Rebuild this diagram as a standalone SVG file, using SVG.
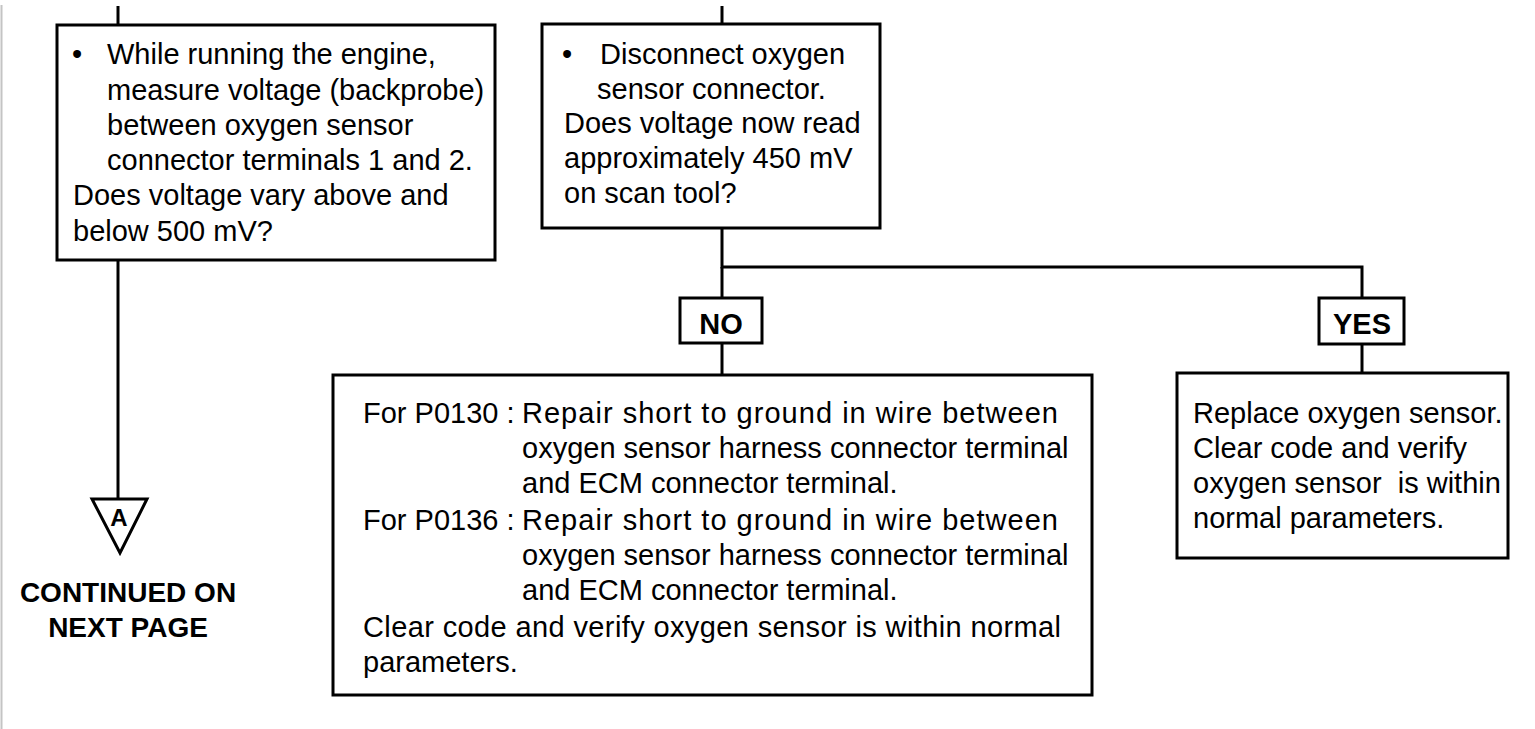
<svg xmlns="http://www.w3.org/2000/svg" width="1535" height="729" viewBox="0 0 1535 729">
<style>
.box{fill:#fff;stroke:#000;stroke-width:3}
.ln{fill:none;stroke:#000;stroke-width:3}
.t{font-family:"Liberation Sans",Arial,sans-serif;font-size:29px;fill:#000;white-space:pre}
.b{font-family:"Liberation Sans",Arial,sans-serif;font-weight:bold;fill:#000}
</style>
<rect width="1535" height="729" fill="#fff"/>
<line x1="1.5" y1="5" x2="1.5" y2="729" stroke="#c4c4c4" stroke-width="2"/>
<g id="connectors">
<line class="ln" x1="118" y1="6" x2="118" y2="25"/>
<line class="ln" x1="118" y1="260" x2="118" y2="499"/>
<line class="ln" x1="722" y1="6" x2="722" y2="24"/>
<polyline class="ln" points="722,228 722,267 1362,267 1362,298"/>
<line class="ln" x1="722" y1="267" x2="722" y2="298"/>
<line class="ln" x1="722" y1="343" x2="722" y2="375"/>
<line class="ln" x1="1362" y1="344" x2="1362" y2="373"/>
</g>
<g id="step1">
<rect class="box" x="57" y="25" width="438" height="235"/>
<text class="t" x="72" y="64">•</text>
<text class="t" x="107" y="64">While running the engine,</text>
<text class="t" x="107" y="100">measure voltage (backprobe)</text>
<text class="t" x="107" y="135">between oxygen sensor</text>
<text class="t" x="107" y="170">connector terminals 1 and 2.</text>
<text class="t" x="73" y="205">Does voltage vary above and</text>
<text class="t" x="73" y="241">below 500 mV?</text>
</g>
<g id="step2">
<rect class="box" x="542" y="24" width="338" height="204"/>
<text class="t" x="562" y="64">•</text>
<text class="t" x="600" y="64">Disconnect oxygen</text>
<text class="t" x="597" y="99">sensor connector.</text>
<text class="t" x="564" y="133">Does voltage now read</text>
<text class="t" x="564" y="168">approximately 450 mV</text>
<text class="t" x="564" y="203">on scan tool?</text>
</g>
<g id="no-label">
<rect class="box" x="680" y="298" width="82" height="45"/>
<text class="b" x="721" y="334" font-size="29" text-anchor="middle">NO</text>
</g>
<g id="yes-label">
<rect class="box" x="1319" y="298" width="85" height="46"/>
<text class="b" x="1362" y="334" font-size="29" text-anchor="middle">YES</text>
</g>
<g id="no-action">
<rect class="box" x="333" y="375" width="759" height="320"/>
<text class="t" x="363" y="423">For P0130 :</text>
<text class="t" x="522" y="423" textLength="536" lengthAdjust="spacing">Repair short to ground in wire between</text>
<text class="t" x="522" y="458">oxygen sensor harness connector terminal</text>
<text class="t" x="522" y="493">and ECM connector terminal.</text>
<text class="t" x="363" y="530">For P0136 :</text>
<text class="t" x="522" y="530" textLength="536" lengthAdjust="spacing">Repair short to ground in wire between</text>
<text class="t" x="522" y="565">oxygen sensor harness connector terminal</text>
<text class="t" x="522" y="600">and ECM connector terminal.</text>
<text class="t" x="363" y="637" textLength="698" lengthAdjust="spacing">Clear code and verify oxygen sensor is within normal</text>
<text class="t" x="363" y="672">parameters.</text>
</g>
<g id="yes-action">
<rect class="box" x="1177" y="373" width="331" height="185"/>
<text class="t" x="1193" y="423">Replace oxygen sensor.</text>
<text class="t" x="1193" y="458">Clear code and verify</text>
<text class="t" x="1193" y="493">oxygen sensor  is within</text>
<text class="t" x="1193" y="528">normal parameters.</text>
</g>
<g id="connector-A">
<polygon points="92,499 147,499 120,553" fill="#fff" stroke="#000" stroke-width="3" stroke-linejoin="miter"/>
<text class="b" x="119" y="526" font-size="24" text-anchor="middle">A</text>
<text class="b" x="128" y="602" font-size="28" text-anchor="middle">CONTINUED ON</text>
<text class="b" x="128" y="637" font-size="28" text-anchor="middle">NEXT PAGE</text>
</g>
</svg>
